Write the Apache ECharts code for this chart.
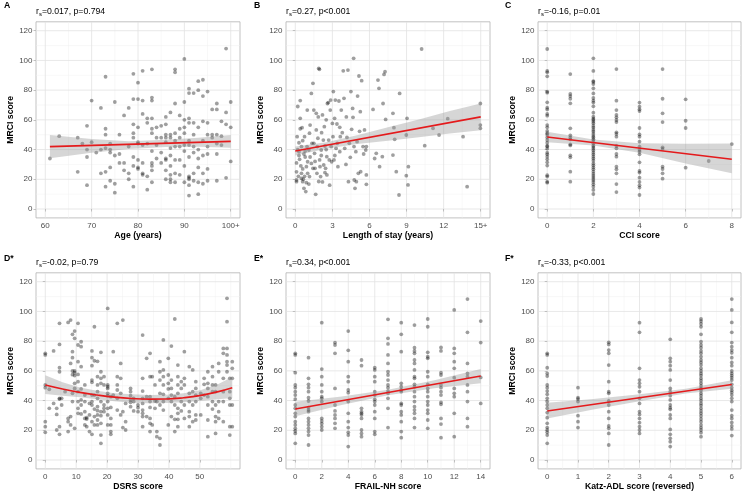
<!DOCTYPE html>
<html><head><meta charset="utf-8">
<script src="https://cdn.jsdelivr.net/npm/echarts@6/dist/echarts.min.js"></script>
<style>html,body{margin:0;padding:0;background:#fff}#c{width:753px;height:492px}</style>
</head><body><div id="c"></div>
<script>
// ---------------- DATA ----------------
const yTicks = [0,20,40,60,80,100,120];
const yMinor = [10,30,50,70,90,110];

const ageTicks = [60,70,80,90,100];
const ageLabels = ['60','70','80','90','100+'];
const ageMinor = [65,75,85,95];
const losTicks = [0,3,6,9,12,15];
const losLabels = ['0','3','6','9','12','15+'];
const losMinor = [1.5,4.5,7.5,10.5,13.5];
const cciTicks = [0,2,4,6,8];
const cciMinor = [1,3,5,7];
const dsrsTicks = [0,10,20,30,40,50];
const dsrsMinor = [5,15,25,35,45,55,60];
const frailTicks = [0,2,4,6,8,10,12,14];
const frailMinor = [1,3,5,7,9,11,13];
const katzTicks = [0,1,2,3,4,5,6];
const katzMinor = [0.5,1.5,2.5,3.5,4.5,5.5];

const ptsAge = [[61,34],[63,49],[67,48],[67,25],[68,44],[69,56],[69,35],[69,16],[69,40],[70,73],[70,45],[71,38],[72,68],[72,24],[72,40],[73,89],[73,54],[73,50],[73,15],[73,25],[73,41],[74,44],[74,19],[74,28],[74,40],[74,38],[75,72],[75,11],[75,17],[75,36],[76,50],[76,31],[76,37],[77,63],[77,26],[77,31],[78,68],[78,20],[78,24],[78,42],[79,91],[79,74],[79,57],[79,51],[79,48],[79,15],[79,29],[79,35],[80,85],[80,74],[80,55],[80,28],[80,33],[80,45],[80,44],[80,27],[81,93],[81,73],[81,64],[81,43],[81,31],[81,24],[81,23],[82,61],[82,13],[82,22],[82,44],[82,58],[83,94],[83,75],[83,73],[83,61],[83,54],[83,51],[83,39],[83,31],[83,26],[83,18],[83,29],[84,55],[84,48],[84,43],[84,34],[85,56],[85,48],[85,31],[85,38],[86,62],[86,57],[86,50],[86,48],[86,45],[86,33],[86,26],[86,20],[86,34],[87,65],[87,50],[87,48],[87,41],[87,36],[87,29],[87,23],[87,20],[87,18],[88,94],[88,92],[88,71],[88,51],[88,46],[88,42],[88,33],[88,24],[88,18],[89,63],[89,54],[89,48],[89,42],[89,33],[89,23],[90,101],[90,72],[90,60],[90,55],[90,51],[90,43],[90,39],[90,29],[90,18],[91,81],[91,78],[91,61],[91,58],[91,46],[91,43],[91,22],[91,21],[91,20],[91,9],[91,16],[91,35],[92,78],[92,58],[92,50],[92,42],[92,38],[92,24],[92,19],[93,86],[93,80],[93,55],[93,40],[93,34],[93,28],[93,18],[93,10],[94,87],[94,76],[94,59],[94,46],[94,36],[94,17],[94,24],[95,79],[95,58],[95,50],[95,42],[95,37],[95,27],[95,19],[96,67],[96,50],[96,48],[97,71],[97,67],[97,50],[97,37],[97,19],[97,44],[98,59],[98,49],[98,43],[99,108],[99,65],[99,57],[99,21],[100,72],[100,55],[100,32]];

const ptsLos = [[0.1,31],[0.1,25],[0.1,19.5],[0.1,18.4],[0.15,48.7],[0.2,69],[0.3,44.6],[0.3,38.6],[0.35,33.4],[0.4,73],[0.4,61],[0.4,54],[0.5,24],[0.5,20.6],[0.5,42],[0.55,54.7],[0.6,27],[0.6,18.4],[0.7,37],[0.7,13.9],[0.75,22],[0.75,48.7],[0.8,35],[0.85,11.7],[0.9,28.5],[0.9,17.7],[0.95,42],[0.97,66.6],[1.0,31.8],[1.0,24],[1.1,39.7],[1.1,16.8],[1.15,51],[1.15,21.8],[1.2,56.5],[1.3,77.8],[1.3,30.7],[1.35,44.2],[1.43,84.6],[1.43,27.4],[1.5,66.6],[1.5,44.2],[1.56,37.5],[1.6,27.4],[1.65,9.9],[1.7,64.4],[1.7,53.2],[1.75,24],[1.78,42],[1.83,47.6],[1.86,62],[1.9,94.7],[1.95,94],[1.97,33],[2.0,28.5],[2.05,21.8],[2.1,39.7],[2.13,51.4],[2.2,63.3],[2.2,18.2],[2.27,46.4],[2.3,29.6],[2.35,55.4],[2.4,42.4],[2.45,27.4],[2.5,60],[2.55,35.2],[2.56,22.9],[2.6,71],[2.67,71.6],[2.7,46.4],[2.75,33],[2.78,16],[2.83,66.6],[2.86,73.3],[2.9,42],[2.94,31.8],[3.0,57.6],[3.05,48.7],[3.08,79],[3.13,33],[3.18,61],[3.24,73.3],[3.3,40.8],[3.37,57.2],[3.4,44.2],[3.45,28.5],[3.53,72.7],[3.6,38.6],[3.64,48.7],[3.72,66.6],[3.8,51.4],[3.88,93],[3.94,74.5],[4.0,40.8],[4.13,62],[4.18,48.2],[4.26,93.5],[4.3,18.4],[4.37,44.2],[4.45,34.8],[4.5,79],[4.56,53.6],[4.64,67.7],[4.67,61.7],[4.72,101.4],[4.75,42],[4.77,19.5],[4.83,13.9],[4.9,38.6],[4.94,18.4],[5.0,45.3],[5.04,76],[5.1,24],[5.15,89.5],[5.2,52.3],[5.26,65.5],[5.29,25.1],[5.37,86.4],[5.48,42],[5.53,37],[5.6,53.2],[5.7,39.7],[5.75,42],[5.75,16.6],[5.75,22.9],[6.29,67],[6.42,34],[6.55,37.5],[6.69,86.8],[6.77,81.2],[6.82,28.5],[7.04,35.2],[7.1,71],[7.18,90.6],[7.26,92.4],[7.31,60.3],[7.9,64.4],[7.9,36.3],[7.98,54.7],[8.04,46.9],[8.17,25.1],[8.44,77.8],[8.39,9.4],[8.98,49.8],[9.04,61],[8.98,22.4],[9.12,16.2],[9.15,28.5],[10.22,107.7],[10.47,42.6],[11.14,54.3],[11.63,49.8],[12.33,60.8],[13.57,48.7],[13.9,15],[14.97,71],[14.97,56.5],[14.97,54.3],[0.2,40],[0.3,36],[0.45,29],[0.6,46],[0.8,39],[1.2,35],[1.6,32],[2.1,36],[2.5,40],[3.2,36],[3.6,55],[4.1,30],[0.25,22],[0.65,20],[1.9,18.5],[2.4,24.5]];

const cciGroups = [
  [0,[107.7,92.9,92,89.3,79,78.3,71.8,68.2,67,64,62.8,56.5,55,52.5,51,50,48.2,46.4,44.6,42.6,42,40.6,37.9,36.8,35.2,33.4,31.4,29.2,22.7,21.8,18.4,17.7]],
  [1,[90.8,77.4,76,74.2,71.1,54.3,49.6,48.2,46.9,43.5,42.8,36.1,34.8,25.1,18.4]],
  [2,[101.4,92.9,86.1,85.5,84.1,81.2,77.8,74.7,72.9,71.6,69.1,64.8,62.1,60.8,59.9,58.8,57.6,55.9,54.7,53.2,52,50.5,49.1,48.2,46.9,45.8,44.2,42.8,41.7,40.6,39.3,37.9,36.6,35.2,33.9,32.5,30.7,29.4,28,26.7,25.1,23.6,22.2,20.9,19.5,18.2,16.6,15,12.8,10.1]],
  [3,[94.2,72.9,66.6,63.3,61.7,59.9,58.5,51.6,50.5,48.7,42.4,40.8,37,35.2,28.5,26.7,24,16.8,11.4]],
  [4,[71.6,68.9,67.1,65.9,54.5,50.2,48.7,45.3,42,39.7,38.6,36.8,31.4,25.6,24.5,21.1,18.2,15.9,14.4,9.4]],
  [5,[94.2,74.2,64.4,58.5,41.5,40.4,28.5,26.9,24,20.4]],
  [6,[73.8,59.4,54.5,27.8]],
  [7,[32.3]],
  [8,[43.7]]
];

const dsrsGroups = [
  [0,[71.8,70.7,50.5,48.7,25.8,22.4,18.6]],
  [1.3,[47.6,34.8]],
  [2.7,[73.4,38.1]],
  [3.7,[34.8,30.7,20.2]],
  [4.6,[92,77.8,62.1,59.4,41.5,41,22.4,17.3]],
  [5.3,[41.5,37]],
  [6.4,[46]],
  [7.4,[92.6,28,25.8,19.1]],
  [8.2,[94.2,65,29.2,23.6]],
  [8.8,[84.6,72.9,68.9,59.9,57.4,44.9,39.3]],
  [9.5,[86.8,81.9,59.9,58.8,56.8,51.6,48.2,21.3]],
  [10.6,[92,77.4,66.2,57.6,52.7,46,39.3,34.8,31.4]],
  [11.6,[79.6,76.3,62.8,47.8,40.4,37,31]],
  [12.8,[50.5,43.7,39.3,32.5,28,23.6]],
  [13.4,[28.5,27.6,22.4]],
  [14.3,[38.1,30.3,19.1]],
  [15.1,[73.4,68.9,63.5,53.8,52.3,43.7,39.3,37,25.8,17.3]],
  [15.9,[89.7,66.8,43.7,34.3,29.2,23.6]],
  [16.9,[66.4,56.1,50.5,46,41.5,35.9,33.2,30.3,26.9,23.6]],
  [18,[72.5,59.4,55,51.6,39.3,32.5,29.8,24.7,16.8,11.2]],
  [19,[56.1,50.5,37,34.8,32.5]],
  [20.2,[102,50.5,49.3,48.2,44.9,43.3,39.3,34.8,30.3,23.6]],
  [21.2,[42.6,35.4,28,23.6,19.1,17.3]],
  [22,[72.9,43.7]],
  [23.3,[92,56.1,50.5,47.1,41.5,33.6]],
  [24.4,[65,55,44.9,30.3]],
  [25.1,[94.2,32.5,21.8]],
  [26,[38.1,25.8,20.2]],
  [27.6,[48.2,46,43.3,40.4,38.8,35.9]],
  [28.6,[41.5,39.3,33]],
  [30,[37,35.2,32.5]],
  [31.5,[84.1,55,46.4,41.5,38.1,33.6,31.4,29.2,22.4]],
  [32.8,[68.4,42.6,29.2]],
  [33.9,[71.8,56.1,42.6,39.3,35.4,28,24.7,19.1]],
  [34.6,[56.1,23.6]],
  [35.5,[50.5,39.7,34.8]],
  [36.1,[39.3,19.1,15.7]],
  [37.1,[66.2,59.4,53.8,44.9,37,14.6,10.1]],
  [38.2,[80.8,60.6,56.1,50.5,44.2,39.3,33.6]],
  [39.8,[68.4,57.2,51.6,47.8,41.5,23.6]],
  [40.8,[76.7,53.8,48.2,43.7,39.3,29.2]],
  [41.9,[94.9,42.6,37,27.4,19.1]],
  [42.9,[63.9,56.1,50.5,44.9,34.8,31.4,27.4,22.4]],
  [44,[52.7,48.2,39.3,33]],
  [45,[72.9,55,50.5,37,28]],
  [46.6,[62.8,44.9,39.3,32.5,29.2,22.4]],
  [47.7,[60.6,46,37,25.8]],
  [48.7,[52.7,48.2,43.7,39.3,30.3,26.9]],
  [50.3,[44.9,41.5,30.3]],
  [51.4,[55,50.9,43.7]],
  [52.6,[59.4,51.6,48.2,42.6,37,26.9,15.7]],
  [54.1,[62.8,56.1,50.5,46,39.3,34.3]],
  [55.1,[50.5,46,37,29.2,25.8,17.9]],
  [56.1,[65,59.4,39.3,32.5,28]],
  [57.6,[75.1,71.8,55,46,39.3,25.8]],
  [58.8,[108.8,93.1,75.1,70.7,66.2,63.9,59.4]],
  [59.7,[55,46,41.5,37,22.4,16.8]],
  [60.5,[66.2,61.7,37,22.4,55]]
];

const frailGroups = [
  [0,[71.8,70.7,58.8,50.5,48.7,46,43.7,41,37,34.8,31.4,29.2,25.8,23.6,21.3,19.5,17.9,11.2]],
  [1,[68.9,55,50.9,48.7,46,41.9,39.7,35.2,33.6,32.5,28,25.8,23.6,21.3,19.1,16.8,10.1]],
  [2,[92.4,61.2,56.1,50.5,46,42.6,41.5,39.3,28,26.2,24.5,22.4,20.2]],
  [3,[79,77.4,71.8,48.2,37,33,30.3,28,24.7,21.3]],
  [4,[86.8,73.8,66.2,56.1,52.7,47.1,45.3,39.3,31.4,25.8,21.8,18.6,16.8,9]],
  [5,[67.3,63.5,34.8,32.5,31.4,30.3,28,20.2,17.9,15.7]],
  [6,[62.1,60.6,56.1,52.7,46,43.7,40.8,39.3,37,32.5,28,19.1,17.3]],
  [7,[94.7,81.9,78.1,70.7,65,59.4,57.2,53.8,50.5,48.7,46.4,44.9,41.5,34.8,21.8]],
  [8,[92.4,84.6,72.9,51.6,49.3,47.1,46,38.1,37,32.5,30.3,25.8,19.1,15]],
  [9,[90.8,75.6,73.4,71.8,67.3,65,60.6,56.1,55,50.9,49.3,46,42.6,39.3,35.9,33.6,31.4,28,21.8]],
  [10,[94.9,89.7,72.5,69.5,68.4,59.4,56.1,50.9,48.2,46,42.6,39.3,37,33.6,31.4,26.9,21.3]],
  [11,[75.8,73.4,58.8,57.2,50.5,48.7,46,43.7,38.8,37.5,28,24.2,15]],
  [12,[101,75.1,71.8,66.2,61.7,55.4,48.2,44.9,42.6,31.4,15.7]],
  [13,[108.3,85.9,65,58.3,56.1,50.5,46,39.3,28,22.4]],
  [14,[93.5,79,55.6,38.1]]
];

const katzGroups = [
  [0,[71.8,70.7,62.1,58.3,56.5,50.5,48.7,46.4,44.2,41.5,39.3,37,34.8,31.9,28.5,24.7,21.8,20.2,18.6,16.8,11.2]],
  [1,[48.7,41.9,41,39.3,29.8,25.8,21.8]],
  [2,[79.2,77.8,74,71.8,63.9,52.7,46,44.9,39.7,37,32.5,28,22.9,21.3,17.9,10.1]],
  [3,[92.4,85.9,61.7,53.8,51.6,49.3,46,41.5,38.1,32.5,30.7,28,25.1,22.4,20.2,17.9]],
  [4,[81.2,68.4,66.2,63.5,60.6,53.8,48.2,46,43.3,40.4,37,35.2,34.1,30.3,28,20.6,17.3,14.6,12.3,9]],
  [5,[94.9,93.5,91.7,89.7,84.6,79.6,77.4,75.6,73.4,71.8,69.5,67.3,65.7,63.9,61.7,59.9,58.3,56.8,55,53.4,51.6,49.8,48.2,46.7,44.9,43.3,41.5,39.9,38.1,36.6,34.8,33,31.4,29.6,27.6,25.8,23.6,21.8,20.2,18.4,15.7]],
  [6,[108.3,101,92.6,85.9,79,76.3,74,72.2,68.9,65.7,63.5,59.9,58.3,56.8,55.4,53.8,50.9,48.7,46.9,45.5,43.7,41.5,39.3,33.6,29.8,28,25.3,22.9,20.9,16.4]]
];

// fitted lines and confidence bands [x, lower, upper]
const fitAge = [[61,42],[100,45.5]];
const bandAge = [[61,34.2,49.8],[70,37.8,47.1],[78,40.4,45.6],[86,41.8,46.6],[93,41.9,47.9],[100,41.2,49.8]];
const fitLos = [[0,39],[15,62]];
const bandLos = [[0,36,42],[2.5,40.6,45],[5,43.8,49.6],[7.5,46,55],[10,48.3,60.3],[12.5,50.8,65.9],[15,53,71]];
const fitCci = [[0,48.5],[8,33.5]];
const bandCci = [[0,45,52],[2,42.7,46.8],[4,37.8,44.3],[6,30.7,43.9],[8,24,44]];
const fitDsrs = [[0,50.5],[5.6,47.8],[11.2,45.5],[16.8,43.7],[22.4,42.3],[28,41.4],[33.6,41.0],[39.2,41.1],[44.8,41.9],[50.4,43.5],[56,46],[60.5,48.6]];
const bandDsrs = [[0,44.5,57],[5.6,43.3,52.3],[11.2,42.3,48.8],[16.8,40.8,46.6],[22.4,39.6,45],[28,38.6,44.2],[33.6,38.2,43.8],[39.2,38.3,43.9],[44.8,38.9,44.9],[50.4,39.9,47.1],[56,40.9,51.1],[60.5,41.8,55.8]];
const fitFrail = [[0,34.3],[14,56.5]];
const bandFrail = [[0,29.5,39.2],[3.5,37,42.7],[7,43.5,47.3],[10.5,48.3,53.6],[14,51.7,61.3]];
const fitKatz = [[0,33],[6,50.8]];
const bandKatz = [[0,28,38.5],[1.5,33.9,41.1],[3,39.6,44.2],[4.5,44.7,48],[6,47.9,53.7]];

// ---------------- BUILD ----------------
const FONT = '"Liberation Sans", Arial, Helvetica, sans-serif';
const expand = g => { const out = []; g.forEach(([x, ys]) => ys.forEach(y => out.push([x, y]))); return out; };

const panels = [
  {letter:'A', stat:'0.017, p=0.794', xName:'Age (years)', xmin:58, xmax:102, ticks:ageTicks, labels:ageLabels, minor:ageMinor, pts:ptsAge, fit:fitAge, band:bandAge},
  {letter:'B', stat:'0.27, p<0.001', xName:'Length of stay (years)', xmin:-0.75, xmax:15.75, ticks:losTicks, labels:losLabels, minor:losMinor, pts:ptsLos, fit:fitLos, band:bandLos},
  {letter:'C', stat:'-0.16, p=0.01', xName:'CCI score', xmin:-0.4, xmax:8.4, ticks:cciTicks, labels:null, minor:cciMinor, pts:expand(cciGroups), fit:fitCci, band:bandCci},
  {letter:'D*', stat:'-0.02, p=0.79', xName:'DSRS score', xmin:-3, xmax:63, ticks:dsrsTicks, labels:null, minor:dsrsMinor, pts:expand(dsrsGroups), fit:fitDsrs, band:bandDsrs, smooth:true},
  {letter:'E*', stat:'0.34, p<0.001', xName:'FRAIL-NH score', xmin:-0.7, xmax:14.7, ticks:frailTicks, labels:null, minor:frailMinor, pts:expand(frailGroups), fit:fitFrail, band:bandFrail},
  {letter:'F*', stat:'-0.33, p<0.001', xName:'Katz-ADL score (reversed)', xmin:-0.3, xmax:6.3, ticks:katzTicks, labels:null, minor:katzMinor, pts:expand(katzGroups), fit:fitKatz, band:bandKatz}
];

const colLeft = [36, 286, 538];
const colW = [204, 204, 203];
const rowTop = [21.8, 272.8];
const plotH = 196.1;

const grids = [], xAxes = [], yAxes = [], series = [], graphics = [];

function gridRenderer(p) {
  return function (params, api) {
    const cs = params.coordSys, ch = [];
    const vline = (v, c, w) => { const q = api.coord([v, 0]); ch.push({type:'line', shape:{x1:q[0], y1:cs.y, x2:q[0], y2:cs.y + cs.height}, style:{stroke:c, lineWidth:w}}); };
    const hline = (v, c, w) => { const q = api.coord([p.ticks[0], v]); ch.push({type:'line', shape:{x1:cs.x, y1:q[1], x2:cs.x + cs.width, y2:q[1]}, style:{stroke:c, lineWidth:w}}); };
    p.minor.forEach(v => vline(v, '#F0F0F0', 0.5));
    yMinor.forEach(v => hline(v, '#F0F0F0', 0.5));
    p.ticks.forEach(v => vline(v, '#E2E2E2', 0.8));
    yTicks.forEach(v => hline(v, '#E2E2E2', 0.8));
    return {type:'group', children:ch};
  };
}
function bandRenderer(band) {
  return function (params, api) {
    const up = band.map(b => api.coord([b[0], b[2]]));
    const lo = band.map(b => api.coord([b[0], b[1]])).reverse();
    return {type:'polygon', shape:{points: up.concat(lo)}, style:{fill:'rgba(153,153,153,0.4)'}};
  };
}

panels.forEach((p, i) => {
  const r = Math.floor(i / 3), c = i % 3;
  grids.push({left: colLeft[c], top: rowTop[r], width: colW[c], height: plotH, show: true,
    borderColor: '#B3B3B3', borderWidth: 0.8, backgroundColor: '#fff'});
  xAxes.push({gridIndex: i, type: 'value', min: p.xmin, max: p.xmax,
    axisLine: {show: false}, splitLine: {show: false},
    axisTick: {show: true, customValues: p.ticks, length: 2.5, lineStyle: {color: '#B3B3B3', width: 0.8}},
    axisLabel: {customValues: p.ticks, color: '#4D4D4D', fontSize: 8, fontFamily: FONT, margin: 3.5,
      formatter: v => { const k = p.ticks.indexOf(v); return p.labels && k >= 0 ? p.labels[k] : String(v); }},
    name: p.xName, nameLocation: 'middle', nameGap: 13,
    nameTextStyle: {fontWeight: 'bold', fontSize: 8.7, color: '#000', fontFamily: FONT}});
  yAxes.push({gridIndex: i, type: 'value', min: -6, max: 126,
    axisLine: {show: false}, splitLine: {show: false},
    axisTick: {show: true, customValues: yTicks, length: 2.5, lineStyle: {color: '#B3B3B3', width: 0.8}},
    axisLabel: {customValues: yTicks, color: '#4D4D4D', fontSize: 8, fontFamily: FONT, margin: 3.5},
    name: 'MRCI score', nameLocation: 'middle', nameGap: 20, nameRotate: 90,
    nameTextStyle: {fontWeight: 'bold', fontSize: 8.7, color: '#000', fontFamily: FONT}});
  series.push({type: 'custom', xAxisIndex: i, yAxisIndex: i, data: [[p.ticks[0], 0]], renderItem: gridRenderer(p), silent: true, z: 0, clip: true});
  series.push({type: 'scatter', xAxisIndex: i, yAxisIndex: i, data: p.pts, symbolSize: 3.8,
    itemStyle: {color: 'rgba(0,0,0,0.47)'}, silent: true, z: 2});
  series.push({type: 'custom', xAxisIndex: i, yAxisIndex: i, data: [[p.band[0][0], p.band[0][1]]], renderItem: bandRenderer(p.band), silent: true, z: 3, clip: true});
  series.push({type: 'line', xAxisIndex: i, yAxisIndex: i, data: p.fit, showSymbol: false, smooth: !!p.smooth,
    lineStyle: {color: '#E41A1C', width: 1.6}, silent: true, z: 4});
  const lx = [4, 254, 505][c];
  const ty = r === 0 ? [6, 12] : [259, 262.5];
  graphics.push({type: 'text', x: lx, y: ty[0], style: {text: p.letter, font: 'bold 8.7px ' + FONT, fill: '#000', verticalAlign: 'middle'}});
  graphics.push({type: 'text', x: colLeft[c], y: ty[1], style: {
    text: '{a|r}{s|s}{a|=' + p.stat + '}', verticalAlign: 'middle',
    rich: {a: {fontSize: 8.7, fontFamily: FONT, fill: '#000', lineHeight: 12, verticalAlign: 'middle'},
           s: {fontSize: 6, fontFamily: FONT, fill: '#000', lineHeight: 12, padding: [5, 0, 0, 0], verticalAlign: 'middle'}}}});
});

const chart = echarts.init(document.getElementById('c'), null, {renderer: 'canvas'});
chart.setOption({
  animation: false, backgroundColor: '#fff',
  grid: grids, xAxis: xAxes, yAxis: yAxes, series: series, graphic: graphics
});
</script></body></html>
